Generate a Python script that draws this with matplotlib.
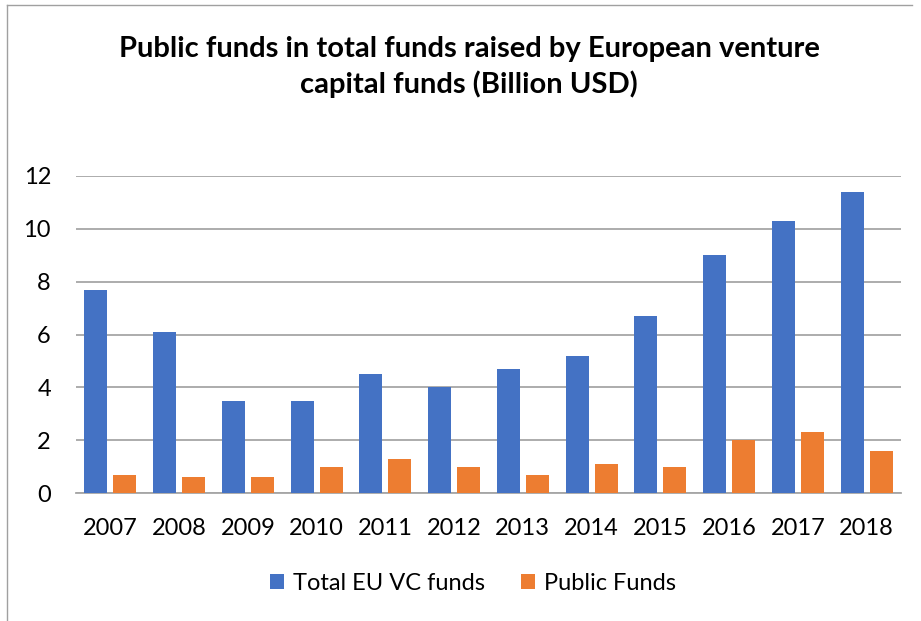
import numpy as np
import matplotlib.pyplot as plt
from matplotlib.lines import Line2D

plt.rcParams['font.family'] = ['Lato', 'DejaVu Sans']

years = ['2007', '2008', '2009', '2010', '2011', '2012',
         '2013', '2014', '2015', '2016', '2017', '2018']
total_vc = [7.7, 6.1, 3.5, 3.5, 4.5, 4.0, 4.7, 5.2, 6.7, 9.0, 10.3, 11.4]
public_funds = [0.7, 0.6, 0.6, 1.0, 1.3, 1.0, 0.7, 1.1, 1.0, 2.0, 2.3, 1.6]

blue = '#4472C4'
orange = '#ED7D31'
grid_grey = '#a6a6a6'

fig = plt.figure(figsize=(9.21, 6.21), dpi=100)
ax = fig.add_axes([76 / 921, 1 - 493 / 621, 825 / 921, 317 / 621])

x = np.arange(len(years))
w = 0.335
ax.bar(x - 0.21, total_vc, w, color=blue, label='Total EU VC funds', zorder=3)
ax.bar(x + 0.21, public_funds, w, color=orange, label='Public Funds', zorder=3)

ax.set_xlim(-0.5, len(years) - 0.5)
ax.set_ylim(0, 12)
ax.set_yticks(range(0, 13, 2))
ax.set_xticks(x)
ax.set_xticklabels(years)
ax.yaxis.grid(True, color=grid_grey, linewidth=1.3, zorder=0)
ax.set_axisbelow(True)

for side in ['top', 'right', 'left']:
    ax.spines[side].set_visible(False)
ax.spines['bottom'].set_color(grid_grey)
ax.spines['bottom'].set_linewidth(1.3)
ax.tick_params(axis='both', length=0, labelsize=17, colors='black')
ax.tick_params(axis='y', pad=18)
ax.tick_params(axis='x', pad=18)

fig.text(469 / 921, 1 - 67 / 621,
         'Public funds in total funds raised by European venture\ncapital funds (Billion USD)',
         ha='center', va='center', fontsize=21, fontweight='bold',
         linespacing=1.4)

fig.legend(loc='center', bbox_to_anchor=(473 / 921, 1 - 583 / 621), ncol=2,
           frameon=False, fontsize=17, handlelength=0.6, handleheight=0.6,
           handletextpad=0.4, columnspacing=1.5)

# thin frame along the top and left edge
fig.add_artist(Line2D([7 / 921, 7 / 921], [0, 1 - 5 / 621],
                      transform=fig.transFigure, color='#a0a0a0', linewidth=1))
fig.add_artist(Line2D([7 / 921, 912 / 921], [1 - 5 / 621, 1 - 5 / 621],
                      transform=fig.transFigure, color='#a0a0a0', linewidth=1))

fig.savefig('out.png', dpi=100, facecolor='white')
